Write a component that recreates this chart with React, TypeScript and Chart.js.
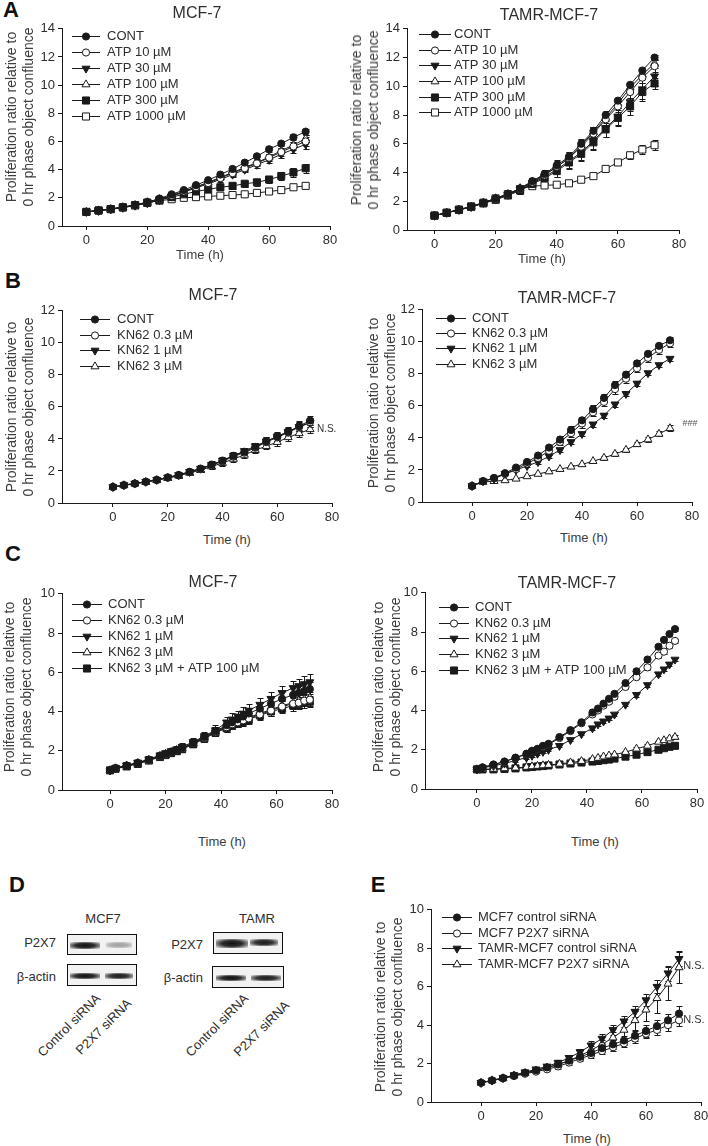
import React, { useEffect, useRef } from 'react';
import { Chart, registerables } from 'chart.js';

Chart.register(...registerables);

const FONT = '"Liberation Sans", Arial, Helvetica, sans-serif';
const INK = '#1a1a1a';
const TXT = '#2e2e2e';
const TXT_LIGHT = '#3c3c3c';

// ---------- time axes ----------
const T4 = [0, 4, 8, 12, 16, 20, 24, 28, 32, 36, 40, 44, 48, 52, 56, 60, 64, 68, 72];
const TC = [0, 2, 6, 10, 14, 18, 20, 22, 24, 26, 30, 34, 38, 42, 44, 46, 48, 50, 54, 58, 62, 66, 68, 70, 72];
const X_TICKS = [0, 20, 40, 60, 80];

// ---------- A: MCF-7 + ATP ----------
const A_MCF_CONT = [1.0, 1.1, 1.22, 1.35, 1.5, 1.7, 1.95, 2.25, 2.55, 2.9, 3.25, 3.65, 4.05, 4.5, 4.95, 5.45, 5.85, 6.3, 6.7];
const A_MCF_ATP10 = [1.0, 1.1, 1.2, 1.33, 1.48, 1.68, 1.9, 2.15, 2.45, 2.75, 3.05, 3.4, 3.75, 4.1, 4.45, 4.85, 5.25, 5.65, 6.0];
const A_MCF_ATP30 = [1.0, 1.08, 1.18, 1.3, 1.45, 1.62, 1.85, 2.1, 2.4, 2.7, 3.0, 3.3, 3.65, 4.0, 4.35, 4.7, 5.1, 5.45, 5.8];
const A_MCF_ATP100 = [1.0, 1.1, 1.2, 1.33, 1.48, 1.68, 1.9, 2.15, 2.45, 2.78, 3.1, 3.45, 3.8, 4.15, 4.5, 4.9, 5.35, 5.75, 6.2];
const A_MCF_ATP300 = [1.0, 1.1, 1.2, 1.32, 1.47, 1.65, 1.85, 2.05, 2.25, 2.45, 2.6, 2.75, 2.85, 3.0, 3.1, 3.3, 3.55, 3.8, 4.1];
const A_MCF_ATP1000 = [1.0, 1.1, 1.2, 1.32, 1.47, 1.65, 1.8, 1.9, 2.0, 2.05, 2.1, 2.15, 2.2, 2.25, 2.35, 2.45, 2.55, 2.75, 2.85];
const A_MCF_CONT_E = [0.03, 0.04, 0.05, 0.05, 0.06, 0.08, 0.09, 0.1, 0.1, 0.12, 0.13, 0.15, 0.15, 0.17, 0.18, 0.2, 0.2, 0.22, 0.22];
const A_MCF_ATP10_E = [0.03, 0.04, 0.04, 0.06, 0.07, 0.08, 0.09, 0.1, 0.12, 0.13, 0.15, 0.16, 0.18, 0.2, 0.22, 0.25, 0.27, 0.28, 0.3];
const A_MCF_ATP30_E = [0.03, 0.04, 0.05, 0.06, 0.07, 0.08, 0.1, 0.11, 0.12, 0.14, 0.15, 0.17, 0.19, 0.2, 0.22, 0.24, 0.26, 0.28, 0.3];
const A_MCF_ATP100_E = [0.03, 0.03, 0.04, 0.05, 0.06, 0.07, 0.08, 0.09, 0.1, 0.11, 0.12, 0.14, 0.15, 0.16, 0.18, 0.19, 0.2, 0.22, 0.24];
const A_MCF_ATP300_E = [0.03, 0.04, 0.05, 0.06, 0.07, 0.08, 0.1, 0.12, 0.14, 0.16, 0.18, 0.2, 0.2, 0.22, 0.24, 0.26, 0.28, 0.3, 0.32];
const A_MCF_ATP1000_E = [0.02, 0.03, 0.03, 0.04, 0.04, 0.05, 0.05, 0.06, 0.06, 0.06, 0.07, 0.07, 0.08, 0.08, 0.08, 0.09, 0.09, 0.1, 0.1];

// ---------- A: TAMR-MCF-7 + ATP ----------
const A_TAM_CONT = [1.0, 1.2, 1.4, 1.62, 1.9, 2.2, 2.5, 2.9, 3.4, 3.9, 4.5, 5.1, 6.0, 6.9, 8.0, 9.0, 10.1, 11.1, 12.0];
const A_TAM_ATP10 = [1.0, 1.2, 1.4, 1.6, 1.88, 2.15, 2.45, 2.85, 3.3, 3.8, 4.4, 5.0, 5.8, 6.7, 7.7, 8.6, 9.6, 10.6, 11.4];
const A_TAM_ATP30 = [1.0, 1.2, 1.4, 1.6, 1.88, 2.15, 2.45, 2.8, 3.25, 3.7, 4.2, 4.8, 5.4, 6.2, 7.1, 7.9, 8.9, 9.8, 10.7];
const A_TAM_ATP100 = [1.0, 1.2, 1.42, 1.62, 1.9, 2.2, 2.5, 2.9, 3.35, 3.85, 4.4, 5.0, 5.9, 6.8, 7.8, 8.8, 9.9, 10.8, 11.6];
const A_TAM_ATP300 = [1.0, 1.2, 1.4, 1.6, 1.85, 2.1, 2.4, 2.75, 3.2, 3.6, 4.1, 4.7, 5.3, 6.1, 7.0, 7.8, 8.6, 9.6, 10.2];
const A_TAM_ATP1000 = [1.0, 1.2, 1.42, 1.65, 1.9, 2.2, 2.5, 2.85, 3.05, 3.1, 3.15, 3.25, 3.5, 3.75, 4.25, 4.7, 5.2, 5.6, 5.9];
const A_TAM_CONT_E = [0.05, 0.06, 0.07, 0.08, 0.1, 0.12, 0.15, 0.2, 0.25, 0.3, 0.35, 0.35, 0.3, 0.3, 0.25, 0.2, 0.2, 0.2, 0.2];
const A_TAM_ATP10_E = [0.05, 0.06, 0.08, 0.1, 0.12, 0.15, 0.2, 0.25, 0.3, 0.35, 0.4, 0.4, 0.45, 0.45, 0.4, 0.4, 0.4, 0.4, 0.4];
const A_TAM_ATP30_E = [0.05, 0.06, 0.08, 0.1, 0.12, 0.15, 0.2, 0.3, 0.35, 0.4, 0.5, 0.5, 0.55, 0.55, 0.6, 0.6, 0.65, 0.7, 0.7];
const A_TAM_ATP100_E = [0.05, 0.06, 0.07, 0.09, 0.11, 0.13, 0.17, 0.2, 0.25, 0.3, 0.3, 0.35, 0.35, 0.35, 0.35, 0.3, 0.3, 0.3, 0.3];
const A_TAM_ATP300_E = [0.05, 0.06, 0.08, 0.1, 0.12, 0.15, 0.2, 0.25, 0.3, 0.35, 0.4, 0.45, 0.5, 0.5, 0.55, 0.55, 0.6, 0.6, 0.4];
const A_TAM_ATP1000_E = [0.04, 0.05, 0.06, 0.07, 0.08, 0.1, 0.12, 0.15, 0.15, 0.12, 0.1, 0.12, 0.15, 0.15, 0.15, 0.2, 0.25, 0.3, 0.35];

// ---------- B: MCF-7 + KN62 ----------
const B_MCF_CONT = [1.0, 1.12, 1.22, 1.33, 1.45, 1.6, 1.75, 1.95, 2.15, 2.4, 2.65, 2.95, 3.2, 3.5, 3.85, 4.15, 4.45, 4.8, 5.15];
const B_MCF_KN03 = [1.0, 1.1, 1.2, 1.32, 1.43, 1.58, 1.72, 1.92, 2.12, 2.35, 2.6, 2.9, 3.15, 3.45, 3.8, 4.1, 4.4, 4.75, 5.05];
const B_MCF_KN1 = [1.0, 1.12, 1.22, 1.33, 1.45, 1.6, 1.75, 1.95, 2.15, 2.38, 2.65, 2.95, 3.25, 3.55, 3.85, 4.15, 4.45, 4.75, 5.0];
const B_MCF_KN3 = [1.0, 1.1, 1.2, 1.3, 1.42, 1.55, 1.7, 1.88, 2.05, 2.28, 2.5, 2.75, 3.0, 3.3, 3.55, 3.8, 4.1, 4.35, 4.6];
const B_MCF_CONT_E = [0.08, 0.1, 0.1, 0.12, 0.12, 0.14, 0.15, 0.16, 0.18, 0.2, 0.22, 0.24, 0.25, 0.26, 0.27, 0.28, 0.28, 0.3, 0.3];
const B_MCF_KN03_E = [0.06, 0.08, 0.09, 0.1, 0.11, 0.12, 0.13, 0.15, 0.16, 0.18, 0.2, 0.22, 0.22, 0.24, 0.25, 0.26, 0.26, 0.28, 0.28];
const B_MCF_KN1_E = [0.06, 0.07, 0.08, 0.09, 0.1, 0.11, 0.12, 0.14, 0.15, 0.17, 0.18, 0.2, 0.21, 0.22, 0.24, 0.25, 0.26, 0.27, 0.28];
const B_MCF_KN3_E = [0.05, 0.06, 0.07, 0.08, 0.09, 0.1, 0.11, 0.12, 0.13, 0.14, 0.16, 0.17, 0.18, 0.19, 0.2, 0.21, 0.22, 0.23, 0.25];

// ---------- B: TAMR-MCF-7 + KN62 ----------
const B_TAM_CONT = [1.0, 1.3, 1.5, 1.8, 2.15, 2.5, 2.9, 3.4, 3.9, 4.5, 5.1, 5.8, 6.5, 7.3, 7.95, 8.65, 9.25, 9.75, 10.1];
const B_TAM_KN03 = [1.0, 1.3, 1.5, 1.75, 2.05, 2.4, 2.75, 3.2, 3.75, 4.3, 4.9, 5.6, 6.25, 7.05, 7.7, 8.35, 9.0, 9.5, 9.9];
const B_TAM_KN1 = [1.0, 1.3, 1.45, 1.75, 2.0, 2.25, 2.5, 2.85, 3.25, 3.75, 4.25, 4.85, 5.4, 6.1, 6.75, 7.4, 8.05, 8.55, 8.95];
const B_TAM_KN3 = [1.0, 1.25, 1.3, 1.35, 1.45, 1.6, 1.75, 1.9, 2.05, 2.2, 2.35, 2.55, 2.75, 3.0, 3.25, 3.6, 3.9, 4.25, 4.6];
const B_TAM_CONT_E = [0.05, 0.06, 0.07, 0.08, 0.1, 0.12, 0.14, 0.16, 0.2, 0.22, 0.22, 0.24, 0.25, 0.25, 0.25, 0.22, 0.2, 0.2, 0.18];
const B_TAM_KN03_E = [0.05, 0.06, 0.07, 0.09, 0.1, 0.12, 0.14, 0.17, 0.2, 0.22, 0.25, 0.26, 0.28, 0.28, 0.26, 0.25, 0.25, 0.25, 0.22];
const B_TAM_KN1_E = [0.04, 0.05, 0.06, 0.07, 0.08, 0.09, 0.1, 0.11, 0.12, 0.13, 0.14, 0.14, 0.15, 0.15, 0.15, 0.14, 0.13, 0.12, 0.12];
const B_TAM_KN3_E = [0.04, 0.05, 0.05, 0.06, 0.06, 0.07, 0.07, 0.08, 0.08, 0.09, 0.09, 0.1, 0.1, 0.11, 0.12, 0.13, 0.14, 0.16, 0.18];

// ---------- C: MCF-7 + KN62 (+ATP) ----------
const C_MCF_CONT = [1.0, 1.12, 1.25, 1.38, 1.55, 1.75, 1.85, 1.95, 2.05, 2.15, 2.4, 2.7, 3.0, 3.3, 3.45, 3.6, 3.75, 3.9, 4.15, 4.4, 4.65, 4.85, 4.95, 5.05, 5.15];
const C_MCF_KN03 = [1.0, 1.1, 1.23, 1.36, 1.52, 1.72, 1.82, 1.92, 2.02, 2.12, 2.37, 2.65, 2.95, 3.2, 3.35, 3.45, 3.55, 3.65, 3.85, 4.05, 4.25, 4.4, 4.45, 4.55, 4.6];
const C_MCF_KN1 = [1.0, 1.12, 1.26, 1.4, 1.57, 1.77, 1.88, 1.98, 2.08, 2.2, 2.45, 2.75, 3.05, 3.45, 3.6, 3.75, 3.9, 4.05, 4.35, 4.65, 4.95, 5.2, 5.3, 5.4, 5.5];
const C_MCF_KN3 = [1.0, 1.1, 1.24, 1.37, 1.53, 1.73, 1.83, 1.93, 2.03, 2.13, 2.38, 2.68, 2.98, 3.25, 3.4, 3.5, 3.6, 3.7, 3.9, 4.1, 4.3, 4.45, 4.55, 4.62, 4.7];
const C_MCF_KN3ATP = [1.0, 1.08, 1.2, 1.33, 1.5, 1.68, 1.78, 1.88, 1.98, 2.08, 2.33, 2.62, 2.92, 3.15, 3.3, 3.4, 3.5, 3.6, 3.8, 4.0, 4.15, 4.3, 4.38, 4.45, 4.5];
const C_MCF_CONT_E = [0.05, 0.07, 0.08, 0.1, 0.12, 0.14, 0.15, 0.15, 0.16, 0.17, 0.18, 0.2, 0.22, 0.25, 0.26, 0.27, 0.28, 0.29, 0.3, 0.31, 0.32, 0.33, 0.34, 0.35, 0.35];
const C_MCF_KN03_E = [0.05, 0.06, 0.08, 0.09, 0.1, 0.12, 0.13, 0.14, 0.15, 0.15, 0.17, 0.18, 0.2, 0.22, 0.22, 0.23, 0.24, 0.25, 0.25, 0.26, 0.27, 0.28, 0.28, 0.29, 0.3];
const C_MCF_KN1_E = [0.05, 0.07, 0.08, 0.1, 0.12, 0.14, 0.15, 0.16, 0.17, 0.18, 0.2, 0.22, 0.25, 0.28, 0.3, 0.3, 0.32, 0.33, 0.35, 0.36, 0.37, 0.38, 0.38, 0.39, 0.4];
const C_MCF_KN3_E = [0.05, 0.06, 0.07, 0.08, 0.1, 0.11, 0.12, 0.13, 0.14, 0.15, 0.16, 0.18, 0.2, 0.21, 0.22, 0.22, 0.23, 0.24, 0.25, 0.25, 0.26, 0.27, 0.27, 0.28, 0.28];
const C_MCF_KN3ATP_E = [0.05, 0.06, 0.07, 0.08, 0.09, 0.1, 0.11, 0.12, 0.13, 0.14, 0.15, 0.17, 0.18, 0.2, 0.2, 0.21, 0.22, 0.22, 0.23, 0.24, 0.24, 0.25, 0.25, 0.26, 0.26];

// ---------- C: TAMR-MCF-7 + KN62 (+ATP) ----------
const C_TAM_CONT = [1.0, 1.1, 1.25, 1.4, 1.6, 1.8, 1.95, 2.05, 2.2, 2.3, 2.65, 3.0, 3.4, 3.9, 4.1, 4.35, 4.6, 4.85, 5.4, 6.0, 6.6, 7.25, 7.6, 7.9, 8.15];
const C_TAM_KN03 = [1.0, 1.1, 1.24, 1.39, 1.58, 1.78, 1.92, 2.02, 2.15, 2.27, 2.6, 2.95, 3.35, 3.8, 4.0, 4.25, 4.45, 4.7, 5.2, 5.7, 6.2, 6.8, 7.0, 7.3, 7.55];
const C_TAM_KN1 = [1.0, 1.08, 1.18, 1.3, 1.45, 1.6, 1.7, 1.8, 1.9, 2.0, 2.2, 2.5, 2.8, 3.1, 3.3, 3.45, 3.6, 3.8, 4.3, 4.8, 5.3, 5.85, 6.1, 6.35, 6.6];
const C_TAM_KN3 = [1.0, 1.0, 1.02, 1.05, 1.08, 1.12, 1.15, 1.17, 1.2, 1.22, 1.28, 1.35, 1.42, 1.52, 1.58, 1.65, 1.7, 1.75, 1.88, 2.05, 2.2, 2.4, 2.48, 2.57, 2.65];
const C_TAM_KN3ATP = [1.0, 1.0, 1.0, 1.02, 1.05, 1.1, 1.12, 1.15, 1.17, 1.2, 1.25, 1.3, 1.35, 1.4, 1.43, 1.47, 1.5, 1.55, 1.65, 1.75, 1.88, 2.0, 2.08, 2.15, 2.2];
const C_TAM_CONT_E = [0.04, 0.04, 0.05, 0.05, 0.05, 0.06, 0.06, 0.06, 0.07, 0.07, 0.07, 0.08, 0.08, 0.09, 0.09, 0.09, 0.1, 0.1, 0.1, 0.11, 0.11, 0.12, 0.12, 0.12, 0.12];
const C_TAM_KN03_E = [0.04, 0.04, 0.04, 0.05, 0.05, 0.05, 0.06, 0.06, 0.06, 0.07, 0.07, 0.07, 0.08, 0.08, 0.08, 0.09, 0.09, 0.09, 0.1, 0.1, 0.11, 0.11, 0.11, 0.12, 0.12];
const C_TAM_KN1_E = [0.03, 0.04, 0.04, 0.04, 0.05, 0.05, 0.05, 0.06, 0.06, 0.06, 0.06, 0.07, 0.07, 0.07, 0.08, 0.08, 0.08, 0.08, 0.09, 0.09, 0.09, 0.1, 0.1, 0.1, 0.1];
const C_TAM_KN3_E = [0.03, 0.03, 0.03, 0.04, 0.04, 0.04, 0.04, 0.04, 0.05, 0.05, 0.05, 0.05, 0.05, 0.06, 0.06, 0.06, 0.06, 0.06, 0.06, 0.07, 0.07, 0.07, 0.07, 0.08, 0.08];
const C_TAM_KN3ATP_E = [0.03, 0.03, 0.03, 0.03, 0.04, 0.04, 0.04, 0.04, 0.04, 0.04, 0.05, 0.05, 0.05, 0.05, 0.05, 0.05, 0.06, 0.06, 0.06, 0.06, 0.06, 0.07, 0.07, 0.07, 0.07];

// ---------- E: siRNA ----------
const E_MCF_CTRL = [1.0, 1.12, 1.25, 1.38, 1.52, 1.65, 1.8, 1.95, 2.15, 2.35, 2.55, 2.8, 3.0, 3.2, 3.45, 3.7, 3.95, 4.25, 4.6];
const E_MCF_P2X7 = [1.0, 1.12, 1.23, 1.35, 1.47, 1.58, 1.7, 1.85, 2.05, 2.25, 2.45, 2.65, 2.85, 3.05, 3.3, 3.55, 3.75, 4.0, 4.25];
const E_TAM_CTRL = [1.0, 1.12, 1.25, 1.4, 1.55, 1.7, 1.85, 2.05, 2.3, 2.6, 2.95, 3.3, 3.75, 4.2, 4.7, 5.3, 6.0, 6.7, 7.45];
const E_TAM_P2X7 = [1.0, 1.12, 1.23, 1.37, 1.5, 1.63, 1.78, 1.95, 2.15, 2.4, 2.7, 3.0, 3.35, 3.75, 4.25, 4.8, 5.4, 6.15, 7.0];
const E_MCF_CTRL_E = [0.04, 0.05, 0.06, 0.07, 0.08, 0.09, 0.1, 0.12, 0.13, 0.15, 0.17, 0.2, 0.22, 0.25, 0.27, 0.3, 0.32, 0.35, 0.38];
const E_MCF_P2X7_E = [0.04, 0.05, 0.06, 0.07, 0.08, 0.09, 0.1, 0.11, 0.12, 0.14, 0.15, 0.17, 0.19, 0.2, 0.22, 0.24, 0.26, 0.28, 0.3];
const E_TAM_CTRL_E = [0.04, 0.05, 0.06, 0.07, 0.08, 0.1, 0.12, 0.14, 0.16, 0.18, 0.2, 0.22, 0.25, 0.28, 0.3, 0.32, 0.35, 0.38, 0.4];
const E_TAM_P2X7_E = [0.04, 0.05, 0.06, 0.07, 0.08, 0.09, 0.1, 0.12, 0.14, 0.16, 0.2, 0.25, 0.3, 0.4, 0.5, 0.6, 0.75, 0.85, 0.8];

// ---------- labels ----------
const ATP_LABELS = ['CONT', 'ATP 10 µM', 'ATP 30 µM', 'ATP 100 µM', 'ATP 300 µM', 'ATP 1000 µM'];
const KN_LABELS = ['CONT', 'KN62 0.3 µM', 'KN62 1 µM', 'KN62 3 µM', 'KN62 3 µM + ATP 100 µM'];
const E_LABELS = ['MCF7 control siRNA', 'MCF7 P2X7 siRNA', 'TAMR-MCF7 control siRNA', 'TAMR-MCF7 P2X7 siRNA'];
const MARKERS = ['fc', 'oc', 'fd', 'ou', 'fs', 'os'];

type Series = { label: string; x: number[]; y: number[]; err: number[]; m: string };
type Note = { x: number; y: number; text: string; size: number; color: string };
type Spec = {
  plot: { l: number; t: number; r: number; b: number };
  xmin: number;
  ymax: number;
  series: Series[];
  legend: { x0: number; x1: number; mx: number; tx: number; y0: number; dy: number };
  notes: Note[];
};

const mk = (labels: string[], x: number[], ys: number[][], es: number[][]): Series[] =>
  ys.map((y, i) => ({ label: labels[i], x, y, err: es[i], m: MARKERS[i] }));

const SPECS: Spec[] = [
  {
    plot: { l: 62, t: 28, r: 330, b: 226 }, xmin: -8, ymax: 14,
    series: mk(ATP_LABELS, T4,
      [A_MCF_CONT, A_MCF_ATP10, A_MCF_ATP30, A_MCF_ATP100, A_MCF_ATP300, A_MCF_ATP1000],
      [A_MCF_CONT_E, A_MCF_ATP10_E, A_MCF_ATP30_E, A_MCF_ATP100_E, A_MCF_ATP300_E, A_MCF_ATP1000_E]),
    legend: { x0: 10, x1: 38, mx: 24, tx: 45, y0: 7, dy: 16 }, notes: [],
  },
  {
    plot: { l: 407, t: 28, r: 679, b: 230 }, xmin: -9, ymax: 14,
    series: mk(ATP_LABELS, T4,
      [A_TAM_CONT, A_TAM_ATP10, A_TAM_ATP30, A_TAM_ATP100, A_TAM_ATP300, A_TAM_ATP1000],
      [A_TAM_CONT_E, A_TAM_ATP10_E, A_TAM_ATP30_E, A_TAM_ATP100_E, A_TAM_ATP300_E, A_TAM_ATP1000_E]),
    legend: { x0: 12, x1: 44, mx: 28, tx: 47, y0: 5, dy: 15.7 }, notes: [],
  },
  {
    plot: { l: 62, t: 310, r: 332, b: 503 }, xmin: -18.6, ymax: 12,
    series: mk(KN_LABELS, T4, [B_MCF_CONT, B_MCF_KN03, B_MCF_KN1, B_MCF_KN3], [B_MCF_CONT_E, B_MCF_KN03_E, B_MCF_KN1_E, B_MCF_KN3_E]),
    legend: { x0: 18, x1: 48, mx: 33, tx: 55, y0: 8, dy: 15.7 },
    notes: [{ x: 74.5, y: 4.6, text: 'N.S.', size: 10, color: '#333' }],
  },
  {
    plot: { l: 422, t: 309, r: 692, b: 502 }, xmin: -18.2, ymax: 12,
    series: mk(KN_LABELS, T4, [B_TAM_CONT, B_TAM_KN03, B_TAM_KN1, B_TAM_KN3], [B_TAM_CONT_E, B_TAM_KN03_E, B_TAM_KN1_E, B_TAM_KN3_E]),
    legend: { x0: 14, x1: 44, mx: 29, tx: 50, y0: 8, dy: 15.3 },
    notes: [{ x: 76.5, y: 4.9, text: '###', size: 9, color: '#555' }],
  },
  {
    plot: { l: 62, t: 593, r: 332, b: 790 }, xmin: -17.3, ymax: 10,
    series: mk(KN_LABELS, TC, [C_MCF_CONT, C_MCF_KN03, C_MCF_KN1, C_MCF_KN3, C_MCF_KN3ATP], [C_MCF_CONT_E, C_MCF_KN03_E, C_MCF_KN1_E, C_MCF_KN3_E, C_MCF_KN3ATP_E]),
    legend: { x0: 10, x1: 40, mx: 25, tx: 46, y0: 10, dy: 16 }, notes: [],
  },
  {
    plot: { l: 425, t: 592, r: 697, b: 789 }, xmin: -18.9, ymax: 10,
    series: mk(KN_LABELS, TC, [C_TAM_CONT, C_TAM_KN03, C_TAM_KN1, C_TAM_KN3, C_TAM_KN3ATP], [C_TAM_CONT_E, C_TAM_KN03_E, C_TAM_KN1_E, C_TAM_KN3_E, C_TAM_KN3ATP_E]),
    legend: { x0: 14, x1: 44, mx: 29, tx: 50, y0: 14, dy: 15.8 }, notes: [],
  },
  {
    plot: { l: 431, t: 909, r: 701, b: 1102 }, xmin: -18.2, ymax: 10,
    series: mk(E_LABELS, T4, [E_MCF_CTRL, E_MCF_P2X7, E_TAM_CTRL, E_TAM_P2X7], [E_MCF_CTRL_E, E_MCF_P2X7_E, E_TAM_CTRL_E, E_TAM_P2X7_E]).map((s, i) => ({ ...s, m: ['fc', 'oc', 'fd', 'ou'][i] })),
    legend: { x0: 11, x1: 41, mx: 26, tx: 47, y0: 7, dy: 15.7 },
    notes: [
      { x: 73.5, y: 7.1, text: 'N.S.', size: 11, color: '#333' },
      { x: 73.5, y: 4.25, text: 'N.S.', size: 11, color: '#333' },
    ],
  },
];

const YW = 32, TP = 10, RP = 16, XH = 24;

function markerProps(m: string) {
  const filled = m[0] === 'f';
  const s = m[1];
  return {
    pointStyle: s === 'c' ? 'circle' : s === 's' ? 'rect' : 'triangle',
    pointRadius: s === 'c' ? 3.6 : s === 's' ? 5 : 4.6,
    pointRotation: s === 'd' ? 180 : 0,
    pointBackgroundColor: filled ? INK : '#fff',
    pointBorderColor: INK,
    pointBorderWidth: 1,
  };
}

function drawMarker(ctx: CanvasRenderingContext2D, m: string, x: number, y: number) {
  const p = markerProps(m);
  const r = p.pointRadius;
  ctx.beginPath();
  if (p.pointStyle === 'circle') {
    ctx.arc(x, y, r, 0, Math.PI * 2);
  } else if (p.pointStyle === 'rect') {
    const h = r * Math.SQRT1_2;
    ctx.rect(x - h, y - h, 2 * h, 2 * h);
  } else {
    let rad = (p.pointRotation * Math.PI) / 180;
    ctx.moveTo(x + Math.sin(rad) * r, y - Math.cos(rad) * r);
    rad += (2 * Math.PI) / 3;
    ctx.lineTo(x + Math.sin(rad) * r, y - Math.cos(rad) * r);
    rad += (2 * Math.PI) / 3;
    ctx.lineTo(x + Math.sin(rad) * r, y - Math.cos(rad) * r);
    ctx.closePath();
  }
  ctx.fillStyle = p.pointBackgroundColor;
  ctx.fill();
  ctx.lineWidth = 1;
  ctx.strokeStyle = INK;
  ctx.stroke();
}

const errorBarPlugin = {
  id: 'errbars',
  beforeDatasetsDraw(chart: any) {
    const ctx = chart.ctx as CanvasRenderingContext2D;
    const xs = chart.scales.x, ys = chart.scales.y;
    ctx.save();
    ctx.strokeStyle = INK;
    ctx.lineWidth = 1;
    chart.data.datasets.forEach((ds: any) => {
      ds.data.forEach((p: any, i: number) => {
        const e = ds.errs[i];
        if (!e) return;
        const px = Math.round(xs.getPixelForValue(p.x)) + 0.5;
        const top = Math.round(ys.getPixelForValue(p.y + e)) + 0.5;
        const bot = Math.round(ys.getPixelForValue(p.y - e)) + 0.5;
        ctx.beginPath();
        ctx.moveTo(px, top); ctx.lineTo(px, bot);
        ctx.moveTo(px - 3, top); ctx.lineTo(px + 3, top);
        ctx.moveTo(px - 3, bot); ctx.lineTo(px + 3, bot);
        ctx.stroke();
      });
    });
    ctx.restore();
  },
};

function makeOverlayPlugin(spec: Spec) {
  return {
    id: 'overlay',
    afterDraw(chart: any) {
      const ctx = chart.ctx as CanvasRenderingContext2D;
      const { left, top } = chart.chartArea;
      const L = spec.legend;
      ctx.save();
      spec.series.forEach((s, i) => {
        const y = top + L.y0 + i * L.dy;
        ctx.beginPath();
        ctx.strokeStyle = INK;
        ctx.lineWidth = 1;
        ctx.moveTo(left + L.x0, Math.round(y) + 0.5);
        ctx.lineTo(left + L.x1, Math.round(y) + 0.5);
        ctx.stroke();
        drawMarker(ctx, s.m, left + L.mx, Math.round(y) + 0.5);
        ctx.fillStyle = TXT;
        ctx.font = `13px ${FONT}`;
        ctx.textBaseline = 'middle';
        ctx.textAlign = 'left';
        ctx.fillText(s.label, left + L.tx, y + 0.5);
      });
      spec.notes.forEach((n) => {
        ctx.fillStyle = n.color;
        ctx.font = `${n.size}px ${FONT}`;
        ctx.textBaseline = 'middle';
        ctx.textAlign = 'left';
        ctx.fillText(n.text, chart.scales.x.getPixelForValue(n.x), chart.scales.y.getPixelForValue(n.y));
      });
      ctx.restore();
    },
  };
}

function PlotChart({ spec }: { spec: Spec }) {
  const ref = useRef<HTMLCanvasElement>(null);
  const { l, t, r, b } = spec.plot;
  const W = r - l + YW + RP;
  const H = b - t + TP + XH;
  useEffect(() => {
    const cv = ref.current;
    if (!cv) return;
    const axisCommon = {
      grid: { drawOnChartArea: false, drawTicks: true, tickLength: 4, color: INK, lineWidth: 1 },
      border: { display: true, color: INK, width: 1 },
    };
    const chart = new Chart(cv, {
      type: 'line',
      data: {
        datasets: spec.series.map((s) => ({
          label: s.label,
          data: s.x.map((x, i) => ({ x, y: s.y[i] })),
          borderColor: INK,
          borderWidth: 1,
          backgroundColor: INK,
          tension: 0,
          fill: false,
          errs: s.err,
          ...markerProps(s.m),
        })) as any,
      },
      options: {
        responsive: false,
        animation: false,
        devicePixelRatio: 1,
        layout: { padding: { left: 0, top: TP, right: RP, bottom: 0 } },
        plugins: { legend: { display: false }, tooltip: { enabled: false }, title: { display: false } },
        scales: {
          x: {
            type: 'linear',
            min: spec.xmin,
            max: 80,
            ...axisCommon,
            ticks: { color: TXT, font: { family: FONT, size: 13 }, padding: 3, maxRotation: 0 },
            afterBuildTicks: (sc: any) => { sc.ticks = X_TICKS.map((v) => ({ value: v })); },
            afterFit: (sc: any) => { sc.height = XH; },
          },
          y: {
            type: 'linear',
            min: 0,
            max: spec.ymax,
            ...axisCommon,
            ticks: { stepSize: 2, color: TXT, font: { family: FONT, size: 13 }, padding: 3 },
            afterFit: (sc: any) => { sc.width = YW; },
          },
        },
      } as any,
      plugins: [errorBarPlugin, makeOverlayPlugin(spec)],
    });
    return () => chart.destroy();
  }, [spec]);
  return (
    <canvas
      ref={ref}
      width={W}
      height={H}
      style={{ position: 'absolute', left: l - YW, top: t - TP, width: W, height: H }}
    />
  );
}

const textBase: React.CSSProperties = {
  position: 'absolute',
  fontFamily: FONT,
  color: TXT,
  whiteSpace: 'nowrap',
  lineHeight: 1,
  fontWeight: 400,
  WebkitFontSmoothing: 'antialiased',
};

function CText({ x, y, size, children, bold, color }: { x: number; y: number; size: number; children: React.ReactNode; bold?: boolean; color?: string }) {
  return (
    <div style={{ ...textBase, left: x, top: y, fontSize: size, fontWeight: bold ? 700 : 400, color: color || (bold ? '#111' : TXT), transform: 'translate(-50%,-50%)' }}>
      {children}
    </div>
  );
}

function RText({ x, y, size, children }: { x: number; y: number; size: number; children: React.ReactNode }) {
  return (
    <div style={{ ...textBase, left: x, top: y, fontSize: size, transform: 'translate(-100%,-50%)' }}>{children}</div>
  );
}

function YTitle({ x, y }: { x: number; y: number }) {
  return (
    <div
      style={{
        ...textBase,
        left: x,
        top: y,
        fontSize: 14,
        color: TXT_LIGHT,
        lineHeight: '17px',
        textAlign: 'center',
        transform: 'translate(-50%,-50%) rotate(-90deg)',
      }}
    >
      Proliferation ratio relative to
      <br />0 hr phase object confluence
    </div>
  );
}

function SlantText({ x, y, children }: { x: number; y: number; children: React.ReactNode }) {
  return (
    <div
      style={{
        ...textBase,
        left: x,
        top: y,
        fontSize: 13,
        transformOrigin: '100% 50%',
        transform: 'translate(-100%,-50%) rotate(-45deg)',
      }}
    >
      {children}
    </div>
  );
}

function Band({ x, y, w, h, o }: { x: number; y: number; w: number; h: number; o: number }) {
  return (
    <div
      style={{
        position: 'absolute',
        left: x - w / 2,
        top: y - h / 2,
        width: w,
        height: h,
        opacity: o,
        background: 'radial-gradient(ellipse at center, rgba(15,15,15,1) 0%, rgba(25,25,25,0.9) 45%, rgba(40,40,40,0) 100%)',
      }}
    />
  );
}

function BlotBox({ l, t, w, h, bands }: { l: number; t: number; w: number; h: number; bands: { x: number; y: number; w: number; h: number; o: number }[] }) {
  return (
    <div style={{ position: 'absolute', left: l, top: t, width: w, height: h, border: '1.5px solid #111', background: '#f2f2f2', boxSizing: 'border-box', overflow: 'hidden' }}>
      {bands.map((bd, i) => (
        <Band key={i} {...bd} />
      ))}
    </div>
  );
}

export default function App() {
  return (
    <div style={{ position: 'absolute', left: 0, top: 0, width: 708, height: 1146, background: '#fff', overflow: 'hidden' }}>
      {SPECS.map((s, i) => (
        <PlotChart key={i} spec={s} />
      ))}

      {/* panel letters */}
      <CText x={11} y={10} size={22} bold>A</CText>
      <CText x={13} y={281} size={22} bold>B</CText>
      <CText x={13} y={554} size={22} bold>C</CText>
      <CText x={17} y={885} size={22} bold>D</CText>
      <CText x={378} y={885} size={22} bold>E</CText>

      {/* chart titles */}
      <CText x={197} y={13} size={16}>MCF-7</CText>
      <CText x={549} y={15} size={16}>TAMR-MCF-7</CText>
      <CText x={213} y={295} size={16}>MCF-7</CText>
      <CText x={567} y={298} size={16}>TAMR-MCF-7</CText>
      <CText x={213} y={582} size={16}>MCF-7</CText>
      <CText x={567} y={583} size={16}>TAMR-MCF-7</CText>

      {/* x titles */}
      <CText x={200} y={254} size={13} color={TXT_LIGHT}>Time (h)</CText>
      <CText x={542} y={258} size={13} color={TXT_LIGHT}>Time (h)</CText>
      <CText x={227} y={539} size={13} color={TXT_LIGHT}>Time (h)</CText>
      <CText x={584} y={537} size={13} color={TXT_LIGHT}>Time (h)</CText>
      <CText x={222} y={841} size={13} color={TXT_LIGHT}>Time (h)</CText>
      <CText x={595} y={841} size={13} color={TXT_LIGHT}>Time (h)</CText>
      <CText x={587} y={1138} size={13} color={TXT_LIGHT}>Time (h)</CText>

      {/* y titles */}
      <YTitle x={20} y={117} />
      <YTitle x={365} y={120} />
      <YTitle x={20} y={407} />
      <YTitle x={382} y={403} />
      <YTitle x={18} y={687} />
      <YTitle x={387} y={687} />
      <YTitle x={389} y={1007} />

      {/* panel D: western blots */}
      <CText x={103} y={918} size={13}>MCF7</CText>
      <CText x={257} y={918} size={13}>TAMR</CText>
      <RText x={56} y={942} size={13}>P2X7</RText>
      <RText x={56} y={976} size={13}>β-actin</RText>
      <RText x={203} y={944} size={13}>P2X7</RText>
      <RText x={203} y={977} size={13}>β-actin</RText>
      <BlotBox l={67} t={934} w={70} h={21} bands={[{ x: 17, y: 10, w: 30, h: 7, o: 1 }, { x: 51, y: 10, w: 26, h: 6, o: 0.35 }]} />
      <BlotBox l={67} t={964} w={70} h={22} bands={[{ x: 17, y: 10.5, w: 30, h: 6, o: 1 }, { x: 51, y: 10.5, w: 28, h: 6, o: 0.95 }]} />
      <BlotBox l={213} t={932} w={70} h={22} bands={[{ x: 18, y: 10, w: 32, h: 9, o: 1 }, { x: 50, y: 9.5, w: 28, h: 7, o: 0.95 }]} />
      <BlotBox l={212} t={966} w={72} h={22} bands={[{ x: 18, y: 10.5, w: 30, h: 6, o: 1 }, { x: 53, y: 10.5, w: 30, h: 6, o: 0.95 }]} />
      <SlantText x={98} y={996}>Control siRNA</SlantText>
      <SlantText x={129} y={1001}>P2X7 siRNA</SlantText>
      <SlantText x={246} y={996}>Control siRNA</SlantText>
      <SlantText x={287} y={1003}>P2X7 siRNA</SlantText>
    </div>
  );
}
